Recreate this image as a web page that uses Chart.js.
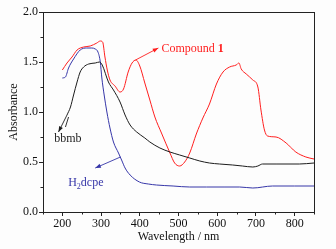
<!DOCTYPE html>
<html>
<head>
<meta charset="utf-8">
<script src="https://cdn.jsdelivr.net/npm/chart.js@4/dist/chart.umd.min.js"></script>
<style>
    html, body { margin: 0; padding: 0; background: #fdfdfd; }
    #wrap { width: 336px; height: 249px; position: relative; }
</style>
</head>
<body>
<div id="wrap"><canvas id="uv"></canvas></div>
<script>
/* ── UV-Vis 吸收光谱 ── */

// Compound 1 (red)
const cpdNm = [200, 212, 225, 238, 255, 272, 289, 298, 304, 310, 316, 323, 336, 349, 358, 370, 380, 390, 400, 413, 426, 439, 456, 478, 490, 503, 516, 529, 546, 563, 580, 598, 615, 632, 649, 656, 662, 675, 692, 705, 713, 722, 730, 752, 778, 803, 829, 850];
const cpdAbs = [1.42, 1.49, 1.55, 1.62, 1.65, 1.66, 1.69, 1.71, 1.70, 1.55, 1.42, 1.32, 1.26, 1.20, 1.23, 1.40, 1.49, 1.52, 1.46, 1.29, 1.12, 0.95, 0.79, 0.59, 0.49, 0.46, 0.50, 0.59, 0.78, 0.94, 1.08, 1.28, 1.40, 1.45, 1.47, 1.49, 1.43, 1.38, 1.32, 1.25, 1.02, 0.82, 0.76, 0.75, 0.69, 0.60, 0.55, 0.53];

// bbmb (black)
const bbmbNm = [212, 221, 229, 238, 246, 255, 268, 285, 296, 303, 319, 332, 349, 362, 375, 392, 413, 426, 452, 478, 503, 529, 555, 580, 606, 640, 665, 692, 705, 717, 752, 812, 850];
const bbmbAbs = [0.97, 1.05, 1.17, 1.30, 1.40, 1.45, 1.48, 1.49, 1.50, 1.47, 1.30, 1.22, 1.10, 0.97, 0.87, 0.80, 0.74, 0.70, 0.64, 0.60, 0.57, 0.54, 0.51, 0.49, 0.48, 0.47, 0.46, 0.45, 0.46, 0.48, 0.48, 0.48, 0.49];

// H2dcpe (blue)
const dcpeNm = [200, 208, 216, 229, 246, 263, 276, 285, 292, 298, 302, 308, 315, 323, 332, 345, 353, 362, 375, 399, 422, 443, 486, 529, 572, 620, 658, 692, 743, 800, 850];
const dcpeAbs = [1.34, 1.35, 1.44, 1.53, 1.62, 1.64, 1.64, 1.63, 1.60, 1.50, 1.34, 1.17, 1.00, 0.84, 0.70, 0.59, 0.52, 0.44, 0.37, 0.30, 0.28, 0.27, 0.26, 0.25, 0.25, 0.25, 0.25, 0.24, 0.26, 0.26, 0.26];

// 刻度
const xMajor = [200, 300, 400, 500, 600, 700, 800];
const xMinor = [150, 250, 350, 450, 550, 650, 750, 850];
const yMajor = [0, 0.5, 1.0, 1.5, 2.0];
const yMinor = [0.25, 0.75, 1.25, 1.75];

const RED = '#ff1e1e';
const BLACK = '#1c1c1c';
const BLUE = '#3636a8';
const SERIF = '"Liberation Serif", "DejaVu Serif", serif';

const toPts = (xs, ys) => xs.map((x, i) => ({ x, y: ys[i] }));

// 标注：箭头 (数据坐标) + 文本
const notes = [
    { from: [389, 1.52], to: [448, 1.64], color: RED, text: [['Compound ', ''], ['1', 'bold']], at: [456, 1.605] },
    { from: [212, 0.97], to: [190, 0.80], color: BLACK, text: [['bbmb', '']], at: [179, 0.70], extra: [[216, 0.95], [208, 0.85]] },
    { from: [350, 0.55], to: [285, 0.44], color: BLUE, text: [['H', ''], ['2', 'sub'], ['dcpe', '']], at: [215, 0.26] },
];

const framePlugin = {
    id: 'frame',
    afterDraw(chart) {
        const { ctx, chartArea: a, scales: { x, y } } = chart;
        ctx.save();
        ctx.strokeStyle = '#222';
        ctx.lineWidth = 1;
        ctx.strokeRect(a.left + 0.5, a.top + 0.5, a.right - a.left, a.bottom - a.top);
        // 次刻度
        ctx.beginPath();
        xMinor.forEach(v => {
            const px = Math.round(x.getPixelForValue(v)) + 0.5;
            ctx.moveTo(px, a.bottom); ctx.lineTo(px, a.bottom + 2.5);
        });
        yMinor.forEach(v => {
            const py = Math.round(y.getPixelForValue(v)) + 0.5;
            ctx.moveTo(a.left, py); ctx.lineTo(a.left - 2.5, py);
        });
        ctx.stroke();

        // 标注
        notes.forEach(n => {
            const x0 = x.getPixelForValue(n.from[0]), y0 = y.getPixelForValue(n.from[1]);
            const x1 = x.getPixelForValue(n.to[0]), y1 = y.getPixelForValue(n.to[1]);
            ctx.strokeStyle = n.color;
            ctx.fillStyle = n.color;
            ctx.lineWidth = 0.9;
            ctx.beginPath();
            ctx.moveTo(x0, y0); ctx.lineTo(x1, y1);
            if (n.extra) {
                ctx.moveTo(x.getPixelForValue(n.extra[0][0]), y.getPixelForValue(n.extra[0][1]));
                ctx.lineTo(x.getPixelForValue(n.extra[1][0]), y.getPixelForValue(n.extra[1][1]));
            }
            ctx.stroke();
            const ang = Math.atan2(y1 - y0, x1 - x0);
            ctx.beginPath();
            ctx.moveTo(x1, y1);
            ctx.lineTo(x1 - 6 * Math.cos(ang - 0.35), y1 - 6 * Math.sin(ang - 0.35));
            ctx.lineTo(x1 - 6 * Math.cos(ang + 0.35), y1 - 6 * Math.sin(ang + 0.35));
            ctx.closePath();
            ctx.fill();

            let tx = x.getPixelForValue(n.at[0]);
            const ty = y.getPixelForValue(n.at[1]);
            ctx.textBaseline = 'alphabetic';
            ctx.textAlign = 'left';
            n.text.forEach(([s, kind]) => {
                ctx.font = (kind === 'bold' ? 'bold 12px ' : kind === 'sub' ? '8px ' : '12px ') + SERIF;
                ctx.fillText(s, tx, kind === 'sub' ? ty + 2.5 : ty);
                tx += ctx.measureText(s).width;
            });
        });
        ctx.restore();
    },
};

const lineDs = (label, xs, ys, color) => ({
    label,
    data: toPts(xs, ys),
    borderColor: color,
    backgroundColor: 'transparent',
    borderWidth: 1,
    pointRadius: 0,
    cubicInterpolationMode: 'monotone',
    fill: false,
});

new Chart(document.getElementById('uv'), {
    type: 'line',
    data: {
        datasets: [
            lineDs('bbmb', bbmbNm, bbmbAbs, BLACK),
            lineDs('H2dcpe', dcpeNm, dcpeAbs, BLUE),
            lineDs('Compound 1', cpdNm, cpdAbs, RED),
        ],
    },
    options: {
        responsive: true,
        maintainAspectRatio: false,
        animation: false,
        layout: { padding: { top: 12, right: 22, left: 0, bottom: 0 } },
        plugins: { legend: { display: false }, tooltip: { enabled: false } },
        scales: {
            x: {
                type: 'linear',
                min: 150, max: 850,
                afterBuildTicks: s => { s.ticks = xMajor.map(v => ({ value: v })); },
                afterFit: s => { s.height = 37; },
                grid: { drawOnChartArea: false, tickLength: 4, color: '#222' },
                border: { color: '#222' },
                ticks: { color: '#111', padding: 1, maxRotation: 0, font: { family: SERIF, size: 12 } },
                title: { display: true, text: 'Wavelength / nm', color: '#111', padding: { top: 0, bottom: 5 }, font: { family: SERIF, size: 12 } },
            },
            y: {
                min: 0, max: 2,
                afterBuildTicks: s => { s.ticks = yMajor.map(v => ({ value: v })); },
                afterFit: s => { s.width = 43; },
                grid: { drawOnChartArea: false, tickLength: 4, color: '#222' },
                border: { color: '#222' },
                ticks: { color: '#111', padding: 1, callback: v => v.toFixed(1), font: { family: SERIF, size: 12 } },
                title: { display: true, text: 'Absorbance', color: '#111', padding: { top: 7, bottom: 0 }, font: { family: SERIF, size: 12 } },
            },
        },
    },
    plugins: [framePlugin],
});
</script>
</body>
</html>
